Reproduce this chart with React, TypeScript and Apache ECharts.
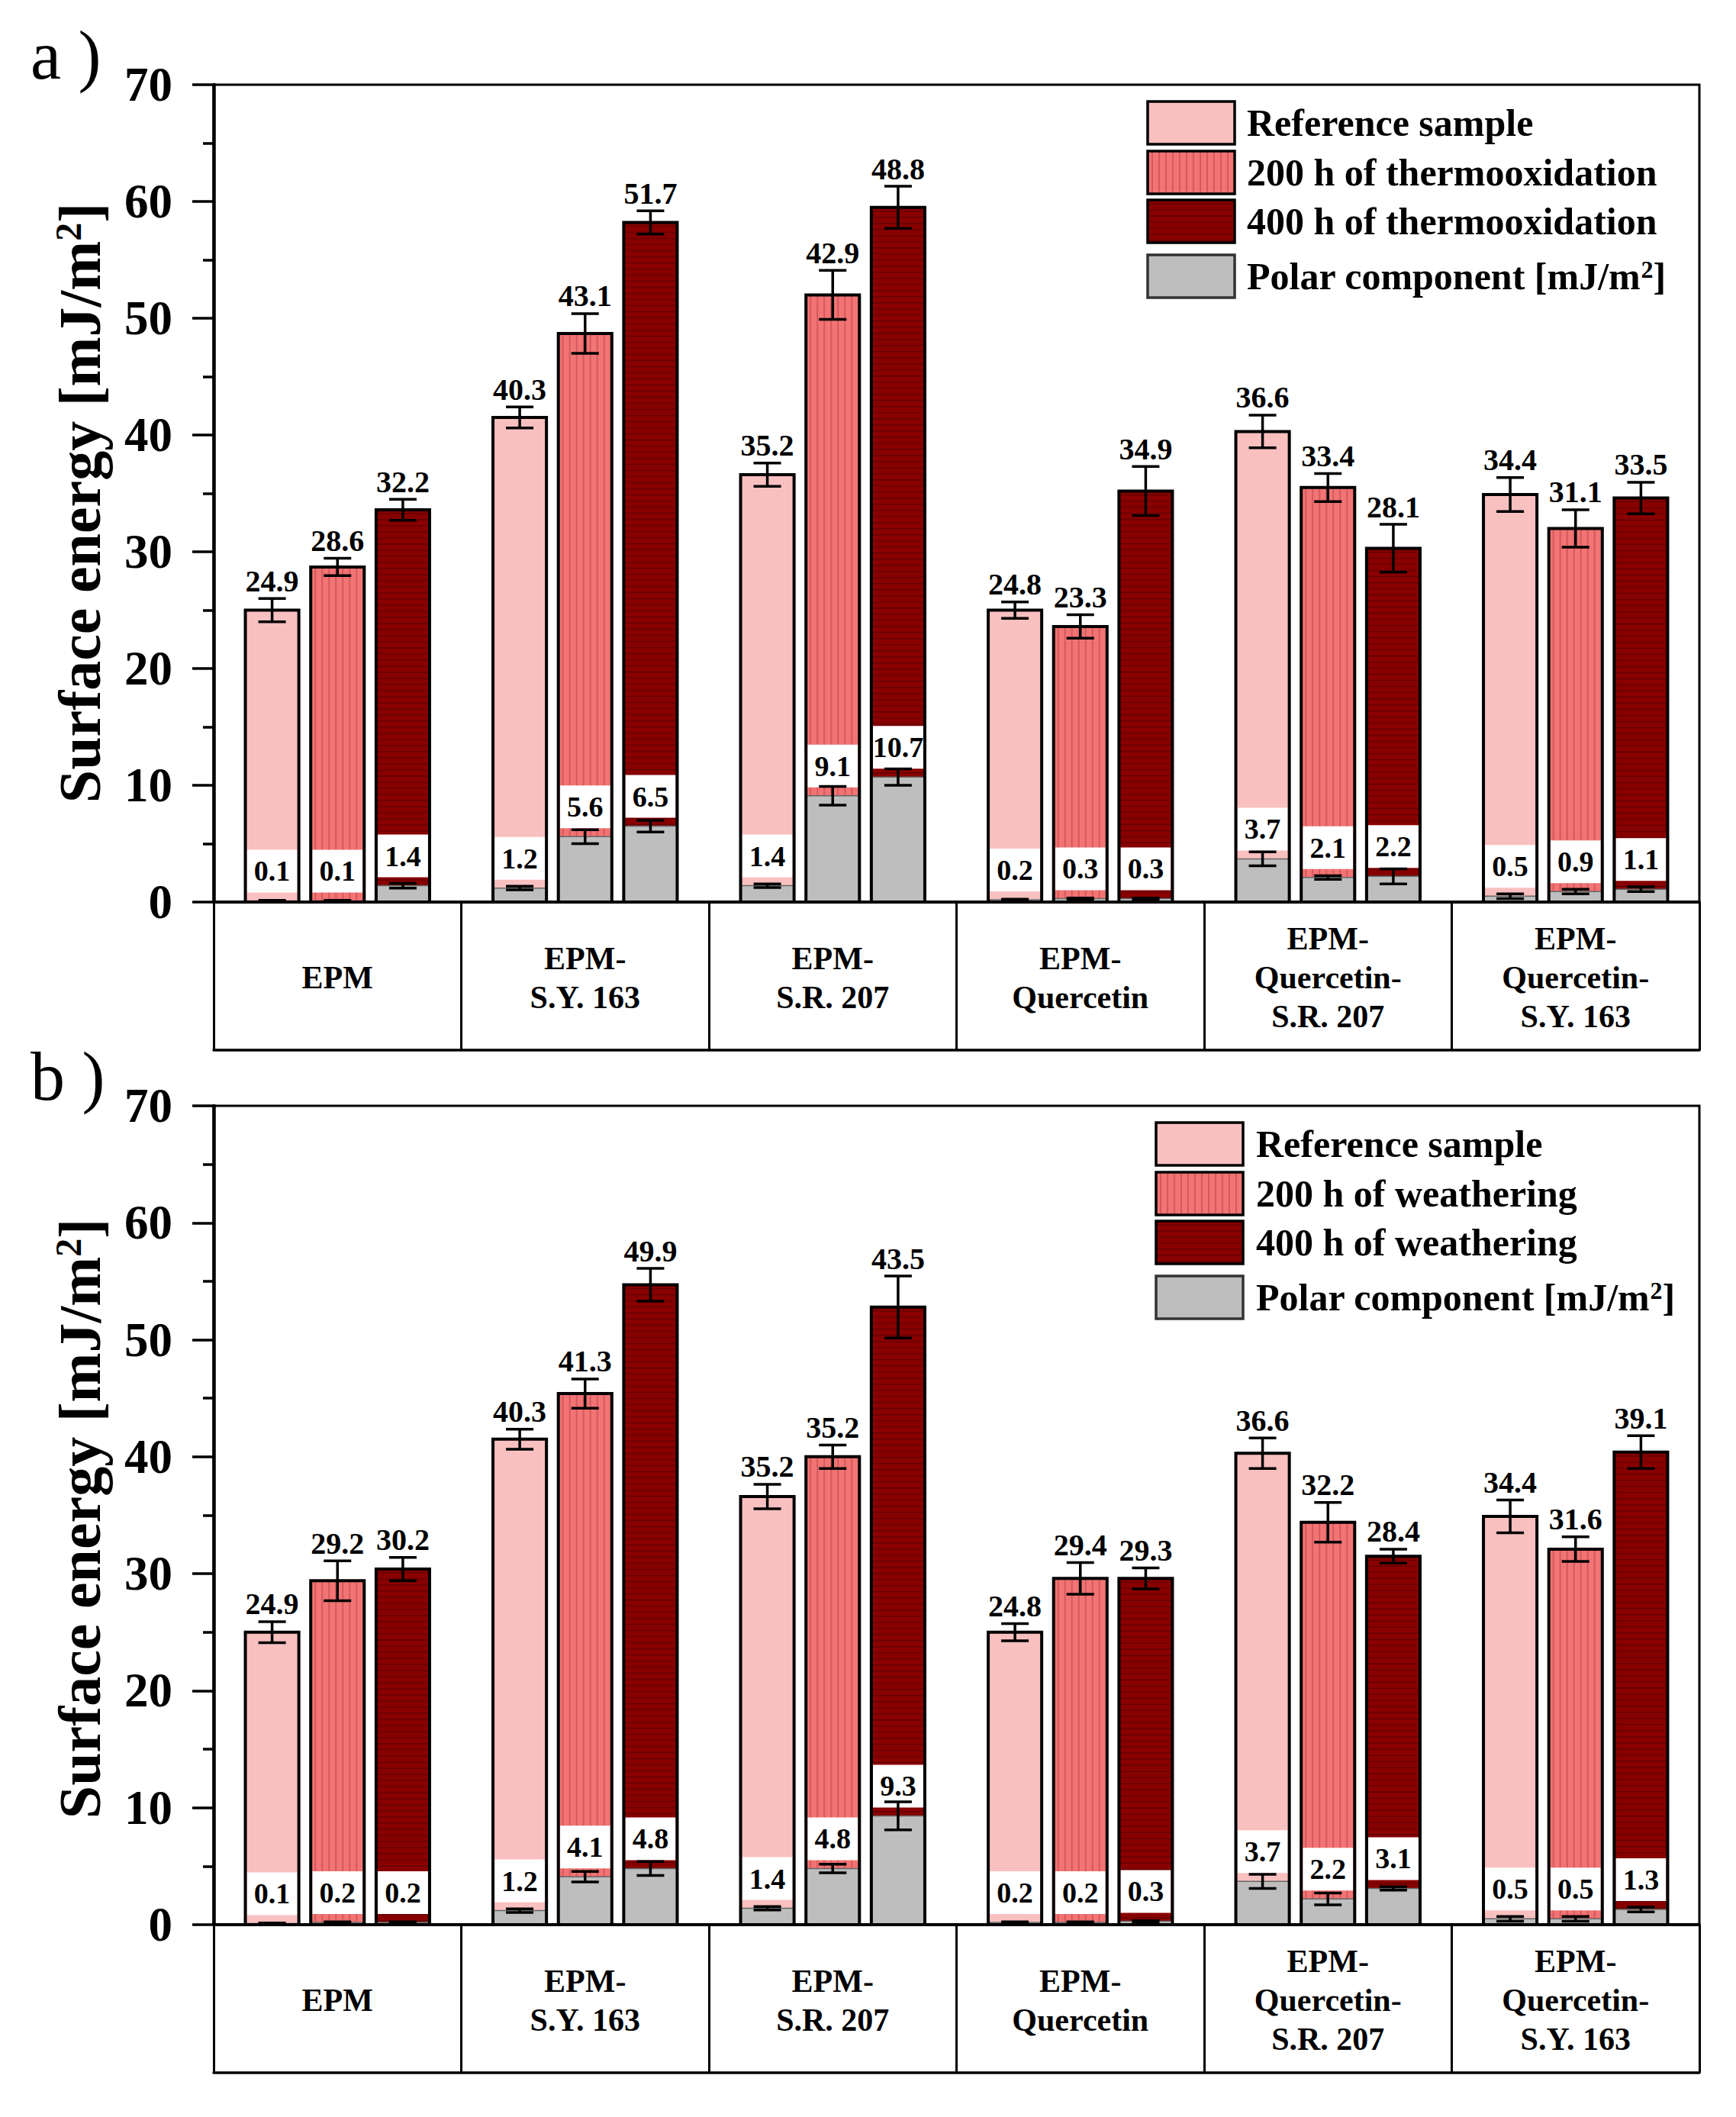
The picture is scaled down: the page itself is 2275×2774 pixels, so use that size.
import React, { useEffect, useRef } from "react";
import * as echarts from "echarts";

const FONT = '"Liberation Serif", "Times New Roman", serif';

const categories = [
  "EPM",
  "EPM-\nS.Y. 163",
  "EPM-\nS.R. 207",
  "EPM-\nQuercetin",
  "EPM-\nQuercetin-\nS.R. 207",
  "EPM-\nQuercetin-\nS.Y. 163",
];

const yTicks = [0, 10, 20, 30, 40, 50, 60, 70];

const legendA = ["Reference sample", "200 h of thermooxidation", "400 h of thermooxidation", "Polar component [mJ/m{sup|2}]"];
const legendB = ["Reference sample", "200 h of weathering", "400 h of weathering", "Polar component [mJ/m{sup|2}]"];

// Panel a) thermooxidation: dispersive component (label above bar), polar component, errors
const dispRefA = [24.9, 40.3, 35.2, 24.8, 36.6, 34.4];
const polarRefA = [0.1, 1.2, 1.4, 0.2, 3.7, 0.5];
const errRefA = [1.0, 0.9, 1.0, 0.7, 1.4, 1.45];
const errPolarRefA = [0.05, 0.15, 0.15, 0.05, 0.6, 0.2];

const disp200A = [28.6, 43.1, 42.9, 23.3, 33.4, 31.1];
const polar200A = [0.1, 5.6, 9.1, 0.3, 2.1, 0.9];
const err200A = [0.75, 1.7, 2.1, 1.0, 1.2, 1.6];
const errPolar200A = [0.05, 0.6, 0.8, 0.05, 0.15, 0.2];

const disp400A = [32.2, 51.7, 48.8, 34.9, 28.1, 33.5];
const polar400A = [1.4, 6.5, 10.7, 0.3, 2.2, 1.1];
const err400A = [0.9, 1.0, 1.8, 2.1, 2.05, 1.35];
const errPolar400A = [0.2, 0.5, 0.7, 0.05, 0.65, 0.2];

// Panel b) weathering
const dispRefB = [24.9, 40.3, 35.2, 24.8, 36.6, 34.4];
const polarRefB = [0.1, 1.2, 1.4, 0.2, 3.7, 0.5];
const errRefB = [0.9, 0.86, 1.05, 0.73, 1.3, 1.4];
const errPolarRefB = [0.05, 0.15, 0.15, 0.05, 0.6, 0.2];

const disp200B = [29.2, 41.3, 35.2, 29.4, 32.2, 31.6];
const polar200B = [0.2, 4.1, 4.8, 0.2, 2.2, 0.5];
const err200B = [1.7, 1.25, 1.0, 1.35, 1.7, 1.05];
const errPolar200B = [0.05, 0.45, 0.37, 0.05, 0.5, 0.2];

const disp400B = [30.2, 49.9, 43.5, 29.3, 28.4, 39.1];
const polar400B = [0.2, 4.8, 9.3, 0.3, 3.1, 1.3];
const err400B = [1.0, 1.4, 2.65, 0.9, 0.6, 1.4];
const errPolar400B = [0.05, 0.6, 1.2, 0.05, 0.15, 0.2];

const FILLS = ["#F9C0C0", "#F27474", "#880000"];
const STRIPE200 = "#D45A5E";
const STRIPE400 = "#690000";
const GRAY = "#BEBEBE";

const GRIDS = [
  { top: 111, height: 1071 },
  { top: 1449, height: 1073 },
];
const GRID_LEFT = 280;
const GRID_RIGHT = 48;
const TABLE_H = 194;

function txt(text: string, size: number, weight: string, extra: any = {}) {
  return {
    text,
    fontSize: size,
    fontFamily: FONT,
    fontWeight: weight,
    fill: "#000",
    ...extra,
  };
}

function makeRender(stateIdx: number) {
  return (params: any, api: any) => {
    const ci = api.value(0);
    const total = api.value(1);
    const disp = api.value(2);
    const polar = api.value(3);
    const eT = api.value(4);
    const eP = api.value(5);
    const catW = api.size([1, 0])[0];
    const bw = catW * 0.216;
    const base = api.coord([ci, 0]);
    const cx = base[0] + (stateIdx - 1) * catW * 0.264;
    const x = cx - bw / 2;
    const y0 = base[1];
    const yT = api.coord([ci, total])[1];
    const yP = api.coord([ci, polar])[1];
    const children: any[] = [];
    children.push({ type: "rect", shape: { x, y: yT, width: bw, height: y0 - yT }, style: { fill: FILLS[stateIdx] } });
    if (stateIdx === 1) {
      for (let sx = x + 6; sx < x + bw - 3; sx += 9) {
        children.push({ type: "line", shape: { x1: sx, y1: yT, x2: sx, y2: y0 }, style: { stroke: STRIPE200, lineWidth: 2 } });
      }
    }
    if (stateIdx === 2) {
      for (let sy = yT + 5; sy < y0; sy += 8) {
        children.push({ type: "line", shape: { x1: x, y1: sy, x2: x + bw, y2: sy }, style: { stroke: STRIPE400, lineWidth: 1.5 } });
      }
    }
    children.push({ type: "rect", shape: { x, y: yP, width: bw, height: y0 - yP }, style: { fill: GRAY, stroke: "#666", lineWidth: 1.5 } });
    const boxB = yP - 11;
    const boxH = 56;
    children.push({ type: "rect", shape: { x: x + 2, y: boxB - boxH, width: bw - 4, height: boxH }, style: { fill: "#fff" } });
    children.push({ type: "rect", shape: { x, y: yT, width: bw, height: y0 - yT }, style: { fill: "none", stroke: "#000", lineWidth: 4 } });
    children.push({
      type: "text",
      x: cx,
      y: boxB - boxH / 2,
      style: txt(polar.toFixed(1), 38, "bold", { align: "center", verticalAlign: "middle", textAlign: "center", textVerticalAlign: "middle" }),
    });
    const cap = 36;
    const errBar = (yHi: number, yLo: number) => {
      children.push({ type: "line", shape: { x1: cx, y1: yHi, x2: cx, y2: yLo }, style: { stroke: "#000", lineWidth: 3.5 } });
      children.push({ type: "line", shape: { x1: cx - cap / 2, y1: yHi, x2: cx + cap / 2, y2: yHi }, style: { stroke: "#000", lineWidth: 3.5 } });
      children.push({ type: "line", shape: { x1: cx - cap / 2, y1: yLo, x2: cx + cap / 2, y2: yLo }, style: { stroke: "#000", lineWidth: 3.5 } });
    };
    errBar(api.coord([ci, polar + eP])[1], api.coord([ci, Math.max(0, polar - eP)])[1]);
    const yE1 = api.coord([ci, total + eT])[1];
    const yE2 = api.coord([ci, total - eT])[1];
    errBar(yE1, yE2);
    children.push({
      type: "text",
      x: cx,
      y: yE1 - 3,
      style: txt(disp.toFixed(1), 40, "bold", { align: "center", verticalAlign: "bottom", textAlign: "center", textVerticalAlign: "bottom" }),
    });
    return { type: "group", children };
  };
}

function makeSeries(g: number, s: number, name: string, disp: number[], polar: number[], err: number[], errP: number[]) {
  const data = categories.map((_, i) => [i, Math.round((disp[i] + polar[i]) * 100) / 100, disp[i], polar[i], err[i], errP[i]]);
  return {
    type: "custom",
    name,
    xAxisIndex: g * 2,
    yAxisIndex: g,
    data,
    encode: { x: 0, y: 1 },
    renderItem: makeRender(s),
    clip: false,
    z: 3,
  };
}

function legendGraphic(g: number, labels: string[], swX: number, txX: number) {
  const top = GRIDS[g].top;
  const rows = [22, 87, 151, 223];
  const els: any[] = [];
  const w = 114;
  const h = 56;
  rows.forEach((r, i) => {
    const y = top + r;
    const fill = i < 3 ? FILLS[i] : GRAY;
    els.push({ type: "rect", shape: { x: swX, y, width: w, height: h }, style: { fill } });
    if (i === 1) {
      for (let sx = swX + 6; sx < swX + w - 3; sx += 9) {
        els.push({ type: "line", shape: { x1: sx, y1: y, x2: sx, y2: y + h }, style: { stroke: STRIPE200, lineWidth: 2 } });
      }
    }
    if (i === 2) {
      for (let sy = y + 5; sy < y + h; sy += 8) {
        els.push({ type: "line", shape: { x1: swX, y1: sy, x2: swX + w, y2: sy }, style: { stroke: STRIPE400, lineWidth: 1.5 } });
      }
    }
    els.push({ type: "rect", shape: { x: swX, y, width: w, height: h }, style: { fill: "none", stroke: i < 3 ? "#000" : "#333", lineWidth: 3.5 } });
    els.push({
      type: "text",
      x: txX,
      y: y + h / 2,
      style: txt(labels[i], 50, "bold", {
        align: "left",
        verticalAlign: "middle",
        textAlign: "left",
        textVerticalAlign: "middle",
        rich: { sup: { fontSize: 32, fontWeight: "bold", fontFamily: FONT, fill: "#000", verticalAlign: "top", lineHeight: 50 } },
      }),
    });
  });
  return els;
}

export default function App() {
  const ref = useRef<HTMLDivElement>(null);
  useEffect(() => {
    if (!ref.current) return;
    const chart = echarts.init(ref.current, undefined, { renderer: "svg" });

    const grids = GRIDS.map((g) => ({
      left: GRID_LEFT,
      right: GRID_RIGHT,
      top: g.top,
      height: g.height,
      show: true,
      borderColor: "#000",
      borderWidth: 3,
      backgroundColor: "transparent",
      containLabel: false,
    }));

    const xAxes: any[] = [];
    const yAxes: any[] = [];
    [0, 1].forEach((g) => {
      xAxes.push({
        type: "category",
        gridIndex: g,
        data: categories,
        boundaryGap: true,
        position: "bottom",
        axisLine: { show: true, lineStyle: { color: "#000", width: 4 } },
        axisTick: { show: true, alignWithLabel: false, interval: 0, length: TABLE_H, lineStyle: { color: "#000", width: 3 } },
        axisLabel: {
          interval: 0,
          margin: 99,
          verticalAlign: "middle",
          fontSize: 42,
          fontWeight: "bold",
          fontFamily: FONT,
          color: "#000",
          lineHeight: 51,
        },
        splitLine: { show: false },
      });
      xAxes.push({
        type: "category",
        gridIndex: g,
        data: categories,
        position: "bottom",
        offset: TABLE_H,
        axisLine: { show: true, lineStyle: { color: "#000", width: 3.5 } },
        axisTick: { show: false },
        axisLabel: { show: false },
        splitLine: { show: false },
      });
      yAxes.push({
        type: "value",
        gridIndex: g,
        min: yTicks[0],
        max: yTicks[yTicks.length - 1],
        interval: 10,
        axisLine: { show: true, lineStyle: { color: "#000", width: 4.5 } },
        axisTick: { show: true, inside: false, length: 28, lineStyle: { color: "#000", width: 3.5 } },
        minorTick: { show: true, splitNumber: 2, length: 14, lineStyle: { color: "#000", width: 3.5 } },
        axisLabel: { margin: 54, fontSize: 63, fontWeight: "bold", fontFamily: FONT, color: "#000" },
        splitLine: { show: false },
        minorSplitLine: { show: false },
      });
    });

    const series = [
      makeSeries(0, 0, "Reference sample", dispRefA, polarRefA, errRefA, errPolarRefA),
      makeSeries(0, 1, "200 h of thermooxidation", disp200A, polar200A, err200A, errPolar200A),
      makeSeries(0, 2, "400 h of thermooxidation", disp400A, polar400A, err400A, errPolar400A),
      makeSeries(1, 0, "Reference sample", dispRefB, polarRefB, errRefB, errPolarRefB),
      makeSeries(1, 1, "200 h of weathering", disp200B, polar200B, err200B, errPolar200B),
      makeSeries(1, 2, "400 h of weathering", disp400B, polar400B, err400B, errPolar400B),
    ];

    const titleStyle = txt("Surface energy [mJ/m{sup|2}]", 78, "bold", {
      align: "center",
      verticalAlign: "middle",
      textAlign: "center",
      textVerticalAlign: "middle",
      rich: { sup: { fontSize: 48, fontWeight: "bold", fontFamily: FONT, fill: "#000", verticalAlign: "top", lineHeight: 78 } },
    });

    const graphic: any[] = [
      ...legendGraphic(0, legendA, 1504, 1634),
      ...legendGraphic(1, legendB, 1515, 1646),
      {
        type: "text",
        x: 40,
        y: 72,
        style: txt("a )", 90, "normal", { align: "left", verticalAlign: "middle", textAlign: "left", textVerticalAlign: "middle" }),
      },
      {
        type: "text",
        x: 40,
        y: 1410,
        style: txt("b )", 90, "normal", { align: "left", verticalAlign: "middle", textAlign: "left", textVerticalAlign: "middle" }),
      },
      { type: "text", x: 104, y: 659, rotation: Math.PI / 2, style: { ...titleStyle } },
      { type: "text", x: 104, y: 1990, rotation: Math.PI / 2, style: { ...titleStyle } },
    ];

    chart.setOption({
      animation: false,
      backgroundColor: "#fff",
      textStyle: { fontFamily: FONT },
      grid: grids,
      xAxis: xAxes,
      yAxis: yAxes,
      series,
      graphic,
    });
    return () => chart.dispose();
  }, []);
  return <div ref={ref} style={{ position: "absolute", left: 0, top: 0, width: 2275, height: 2774, background: "#fff" }} />;
}
